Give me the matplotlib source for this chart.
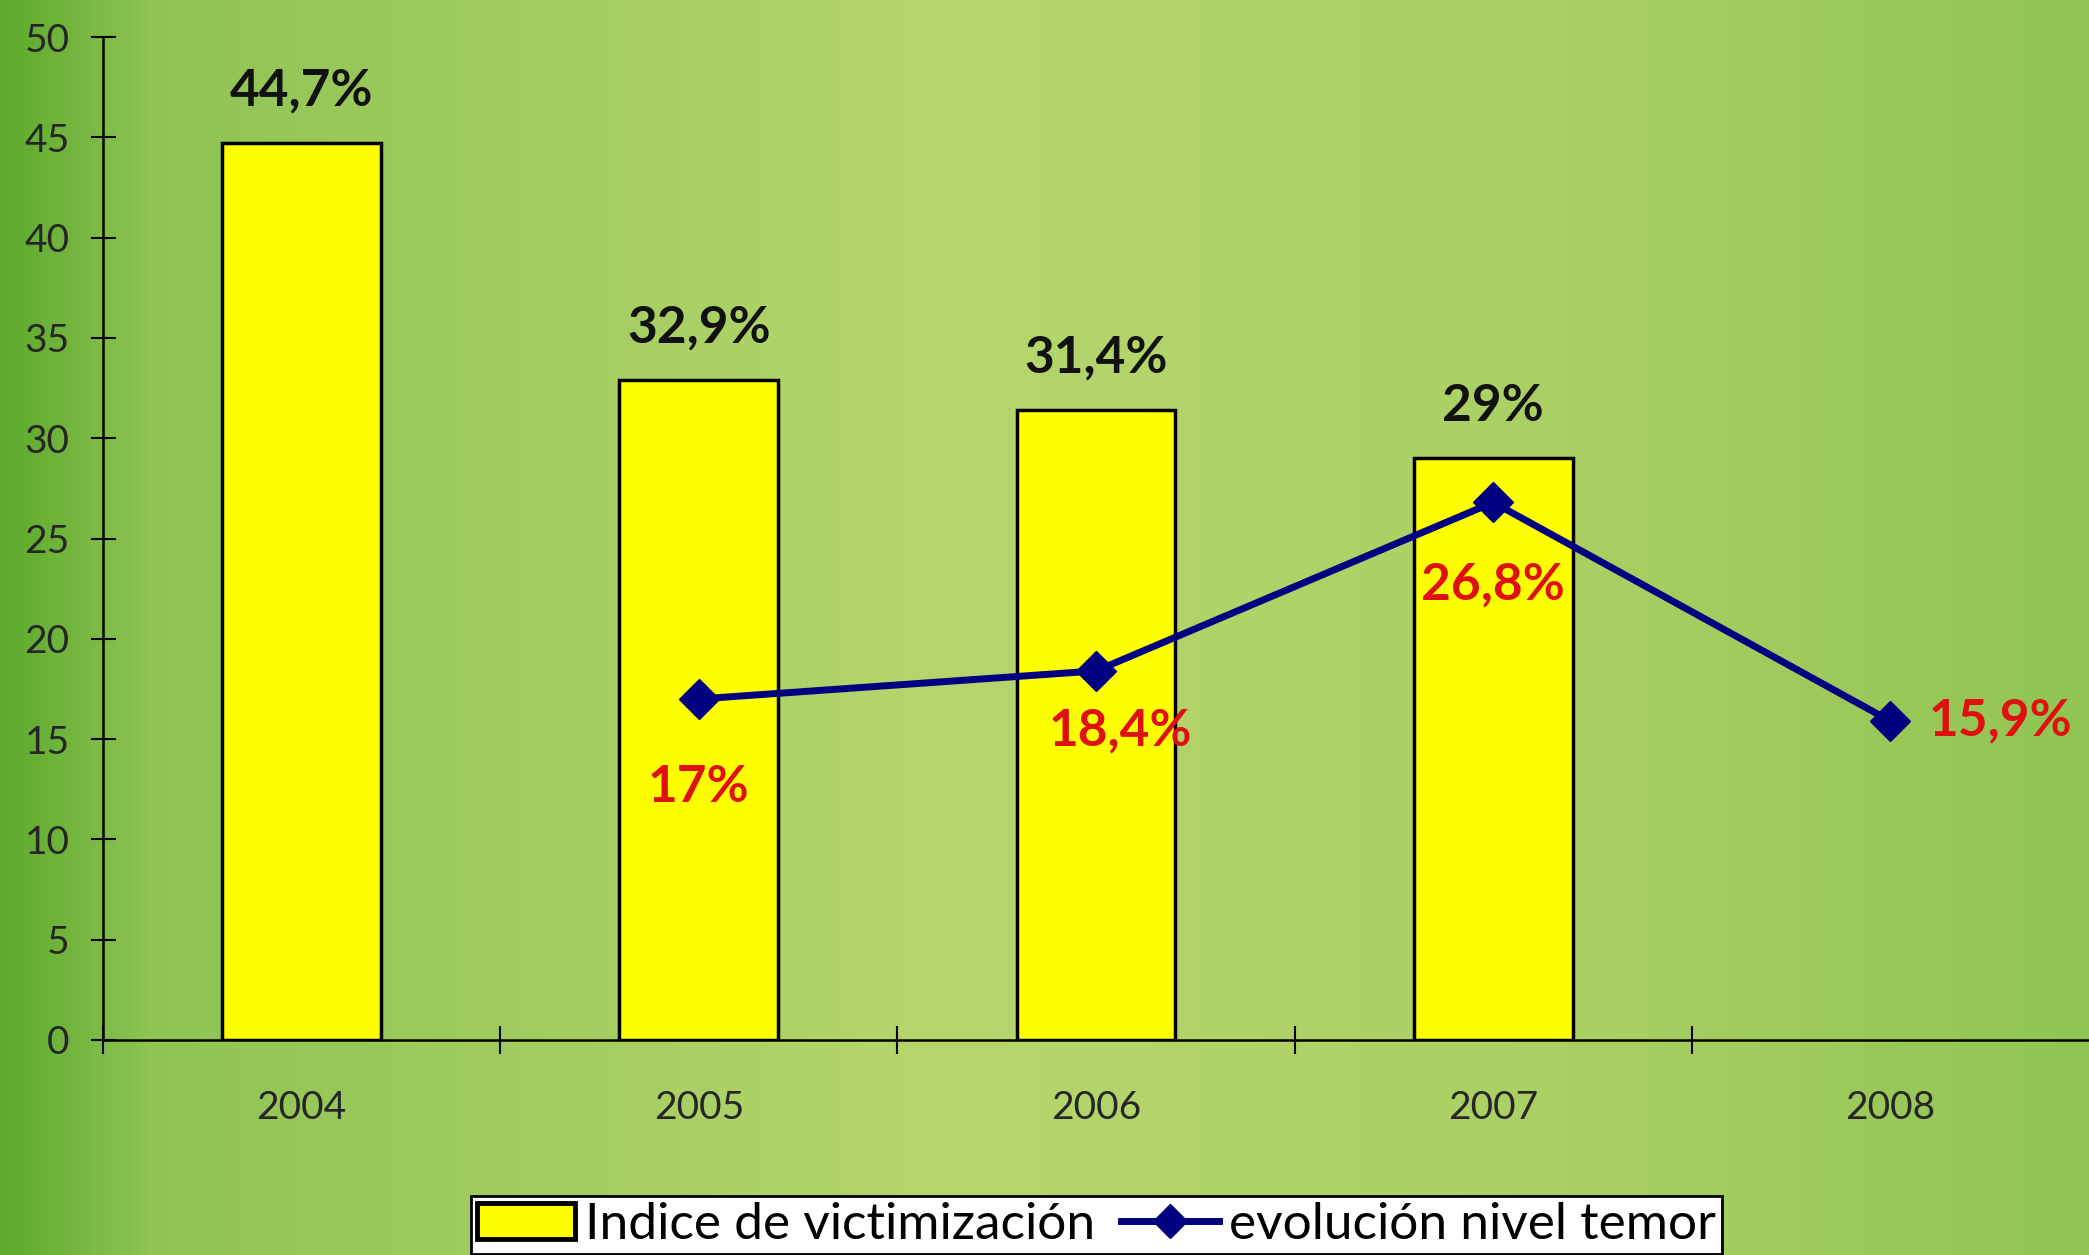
import numpy as np
from matplotlib import pyplot as plt
from matplotlib.patches import Patch
from matplotlib.lines import Line2D
from matplotlib.colors import LinearSegmentedColormap

years = ['2004', '2005', '2006', '2007', '2008']
victimizacion = [44.7, 32.9, 31.4, 29.0]
victimizacion_labels = ['44,7%', '32,9%', '31,4%', '29%']
temor_years = [1, 2, 3, 4]
temor = [17.0, 18.4, 26.8, 15.9]
temor_labels = ['17%', '18,4%', '26,8%', '15,9%']
y_ticks = [0, 5, 10, 15, 20, 25, 30, 35, 40, 45, 50]

plt.rcParams['font.family'] = ['Lato', 'DejaVu Sans']

fig = plt.figure(figsize=(20.89, 12.55), dpi=100)

# green backdrop, darker at the left edge and lighter in the middle
bg = fig.add_axes([0, 0, 1, 1], zorder=-1)
bg_cmap = LinearSegmentedColormap.from_list(
    'bg', [(0.0, '#5caa2c'), (0.07, '#8fc454'), (0.45, '#b6d66d'),
           (0.75, '#aad063'), (1.0, '#90c553')])
grad = np.linspace(0, 1, 512)[None, :]
bg.imshow(np.repeat(grad, 2, axis=0), aspect='auto', cmap=bg_cmap,
          extent=[0, 1, 0, 1])
bg.axis('off')

ax = fig.add_axes([103/2089, 1 - 1040/1255, 1 - 103/2089, 1003/1255])
ax.set_facecolor('none')

x = np.arange(len(victimizacion))
ax.bar(x, victimizacion, width=0.4, color='#ffff00', edgecolor='black',
       linewidth=2.5, zorder=2)
for xi, v, lab in zip(x, victimizacion, victimizacion_labels):
    ax.annotate(lab, (xi, v), xytext=(0, 52), textcoords='offset pixels',
                ha='center', va='center', fontsize=37, fontweight='bold',
                color='#111111', zorder=5)

ax.plot(temor_years, temor, color='#000080', linewidth=5, marker='D',
        markersize=20, zorder=4)
offsets = [(0, -89, 'center'), (24, -60, 'center'), (0, -83, 'center'),
           (38, 0, 'left')]
for xi, v, lab, (dx, dy, ha) in zip(temor_years, temor, temor_labels, offsets):
    ax.annotate(lab, (xi, v), xytext=(dx, dy), textcoords='offset pixels',
                ha=ha, va='center', fontsize=37, fontweight='bold',
                color='#e01010', zorder=5)

ax.set_xlim(-0.5, 4.5)
ax.set_ylim(0, 50)
ax.set_yticks(y_ticks)
ax.set_xticks(range(len(years)))
ax.set_xticklabels(years)
ax.set_xticks(np.arange(-0.5, 4.0, 1.0), minor=True)

ax.spines['top'].set_visible(False)
ax.spines['right'].set_visible(False)
ax.spines['left'].set_linewidth(1.8)
ax.spines['bottom'].set_linewidth(1.8)
ax.spines['left'].set_zorder(3)
ax.spines['bottom'].set_zorder(3)

ax.tick_params(axis='y', direction='inout', length=18, width=1.5, pad=15,
               labelsize=28, labelcolor='#262626')
ax.tick_params(axis='x', which='major', length=0, pad=36, labelsize=28,
               labelcolor='#262626')
ax.tick_params(axis='x', which='minor', direction='inout', length=20, width=1.5)

handles = [Patch(facecolor='#ffff00', edgecolor='black', linewidth=3.5),
           Line2D([], [], color='#000080', linewidth=5, marker='D', markersize=17)]
leg = fig.legend(handles, ['Indice de victimización', 'evolución nivel temor'],
                 loc='upper center', bbox_to_anchor=(0.525, 0.047), ncols=2,
                 fontsize=37, frameon=True, fancybox=False, framealpha=1,
                 edgecolor='black', handlelength=1.9, handletextpad=0.2,
                 columnspacing=0.5, borderpad=0.12, borderaxespad=0)
leg.get_frame().set_linewidth(2)

plt.savefig('out.png', dpi=100)
